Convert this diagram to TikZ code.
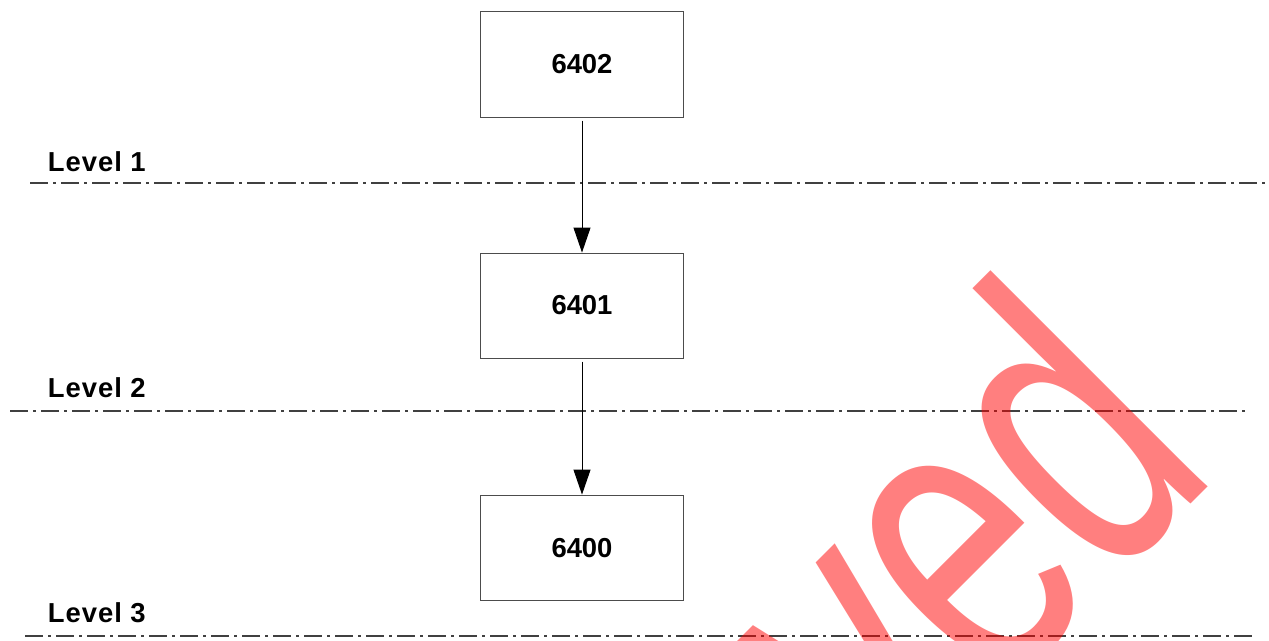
\documentclass[tikz,border=0pt]{standalone}
\usepackage{fontspec}
\setmainfont{Liberation Sans}
\usetikzlibrary{positioning,arrows.meta}
\tikzset{
  partbox/.style={draw=black!70, line width=0.7pt, minimum width=5.05cm, minimum height=2.625cm,
    font=\fontsize{19.5}{22}\selectfont\bfseries},
  levelline/.style={draw=black!75, line width=0.9pt,
    dash pattern=on 0.45cm off 0.125cm on 0.075cm off 0.125cm},
  levellabel/.style={anchor=base west,
    font=\fontsize{19.5}{22}\selectfont\bfseries\addfontfeature{LetterSpace=3.5}},
  uses/.style={-{Triangle[length=0.625cm,width=0.425cm]}, line width=0.7pt, shorten <=0.075cm},
  stamp/.style={rotate=45, anchor=base east, text=red, opacity=0.5,
    font=\fontsize{206}{206}\selectfont}
}

\begin{document}
\begin{tikzpicture}[x=0.025cm, y=-0.025cm]
  \useasboundingbox (0,0) rectangle (1269,640);

  \node[partbox] (n6402) at (582,64.5) {6402};
  \node[partbox, below=3.375cm of n6402] (n6401) {6401};
  \node[partbox, below=3.4cm of n6401] (n6400) {6400};

  % level separators
  \draw[levelline] (30,183) -- (1265,183);
  \draw[levelline] (10,411) -- (1250,411);
  \draw[levelline] (25,636) -- (1252,636);
  \node[levellabel] (lev1) at (43,171) {Level 1};
  \node[levellabel] (lev2) at (43,397) {Level 2};
  \node[levellabel] (lev3) at (43,622) {Level 3};

  \draw[uses] (n6402) -- (n6401);
  \draw[uses] (n6401) -- (n6400);

  \begin{scope}
    \clip (0,0) rectangle (1269,640);
    \node[stamp] (wm) at (1225,470) {\scalebox{1}[1.46]{ved}};
  \end{scope}
\end{tikzpicture}
\end{document}
